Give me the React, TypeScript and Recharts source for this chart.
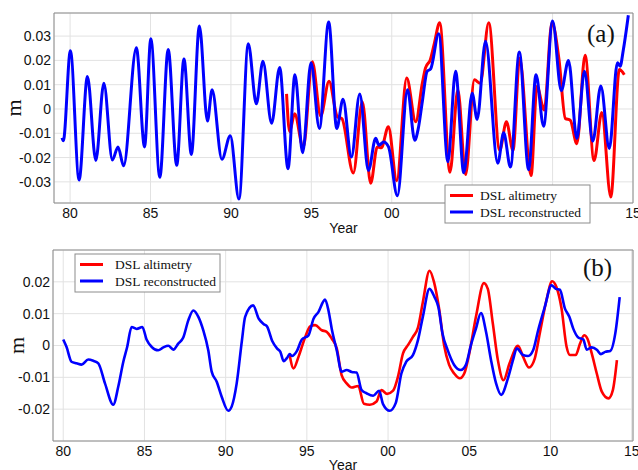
import { CartesianGrid, Line, LineChart, ReferenceArea, XAxis, YAxis } from 'recharts'

// panel (a): years counted from 1900, so 100 = 2000
const topAltYears = [93.46, 93.65, 93.96, 94.5, 95.06, 95.58, 96.1, 96.62, 96.9, 97.61, 98.17, 98.69, 99.1, 99.35, 99.79, 100.31, 100.93, 101.49, 101.9, 102.1, 102.4, 102.65, 102.98, 103.62, 104.11, 104.59, 105.14, 105.5, 106.03, 106.71, 107.13, 107.54, 107.95, 108.66, 109.03, 109.48, 109.96, 110.4, 110.79, 111.1, 111.51, 112.02, 112.58, 113.06, 113.62, 114.15, 114.46]
const topAltValues = [0.0062, -0.0094, -0.002, -0.0159, 0.0194, -0.0029, 0.0114, -0.0032, -0.004, -0.0264, 0.003, -0.0306, -0.0156, -0.016, -0.0073, -0.0295, 0.0127, -0.0053, 0.0106, 0.0169, 0.0203, 0.027, 0.0355, -0.026, 0.0079, -0.027, 0.012, 0.0106, 0.0355, -0.017, -0.0053, -0.017, 0.0209, -0.0274, 0.0092, -0.0004, 0.0355, 0.0203, -0.0039, -0.0046, -0.0143, 0.0221, -0.0212, -0.0015, -0.0362, 0.0162, 0.0141]

const topRecYears = [79.5, 79.58, 80.02, 80.56, 81.08, 81.6, 82.1, 82.63, 82.98, 83.33, 84.12, 84.63, 85.02, 85.58, 86.1, 86.63, 87.08, 87.54, 88.04, 88.54, 88.83, 89.44, 89.96, 90.5, 91.08, 91.58, 91.99, 92.53, 93.03, 93.55, 93.98, 94.46, 94.98, 95.5, 96.08, 96.58, 96.97, 97.49, 98.01, 98.55, 99.0, 99.2, 99.5, 99.8, 100.35, 100.98, 101.43, 101.65, 101.9, 102.2, 102.42, 102.92, 103.49, 103.97, 104.48, 105.0, 105.31, 105.83, 106.59, 106.96, 107.38, 107.93, 108.51, 108.97, 109.44, 110.0, 110.54, 110.99, 111.51, 111.98, 112.5, 113.0, 113.53, 114.03, 114.2, 114.4, 114.71]
const topRecValues = [-0.0119, -0.0131, 0.024, -0.0292, 0.0134, -0.0212, 0.0106, -0.021, -0.0156, -0.0234, 0.0252, -0.0156, 0.0289, -0.0281, 0.0245, -0.0232, 0.0206, -0.0187, 0.0342, -0.005, 0.0079, -0.0207, -0.011, -0.0371, 0.0268, 0.0021, 0.0196, -0.0059, 0.0171, -0.0246, 0.0141, -0.018, 0.019, -0.008, 0.0358, -0.008, 0.004, -0.0198, 0.0062, -0.0253, -0.0121, -0.0149, -0.0136, -0.0156, -0.0357, 0.0079, -0.0129, -0.008, 0.003, 0.0155, 0.0165, 0.031, -0.0217, 0.0155, -0.0263, 0.0065, -0.0043, 0.0279, -0.0223, -0.0098, -0.0239, 0.0234, -0.025, 0.0141, -0.0071, 0.0362, 0.0075, 0.02, -0.0122, 0.0155, -0.0133, 0.0095, -0.0163, 0.019, 0.0176, 0.0244, 0.0386]

// panel (b)
const botAltYears = [93.94, 94.18, 94.49, 94.9, 95.2, 95.51, 95.92, 96.22, 96.53, 96.84, 97.14, 97.45, 97.76, 98.16, 98.51, 98.88, 99.29, 99.59, 99.94, 100.31, 100.61, 100.92, 101.22, 101.53, 101.84, 102.14, 102.55, 102.83, 103.14, 103.45, 103.76, 104.07, 104.42, 104.69, 105.0, 105.41, 105.9, 106.14, 106.45, 106.76, 107.11, 107.48, 108.0, 108.31, 108.68, 109.03, 109.34, 109.75, 110.1, 110.37, 110.68, 110.99, 111.2, 111.55, 111.82, 112.07, 112.27, 112.54, 112.85, 113.16, 113.57, 113.84, 114.09]
const botAltValues = [-0.003, -0.0072, -0.0035, 0.0027, 0.006, 0.0064, 0.0048, 0.0043, 0.0022, -0.0009, -0.0093, -0.0119, -0.0132, -0.0127, -0.0183, -0.0186, -0.0176, -0.014, -0.0152, -0.0142, -0.0098, -0.0025, 0.0001, 0.0027, 0.0056, 0.0136, 0.0235, 0.0199, 0.0116, 0.0001, -0.0061, -0.0088, -0.0103, -0.0088, -0.0025, 0.009, 0.0196, 0.0178, 0.0069, -0.0046, -0.0109, -0.0056, -0.0001, -0.0035, -0.0069, -0.0041, 0.0038, 0.0142, 0.0202, 0.0183, 0.0116, -0.0004, -0.003, -0.003, 0.0006, 0.0032, 0.0022, -0.0025, -0.0088, -0.0145, -0.0166, -0.014, -0.0046]

const botRecYears = [80.0, 80.2, 80.51, 80.82, 81.13, 81.54, 81.85, 82.16, 82.57, 83.08, 83.39, 83.7, 83.94, 84.21, 84.52, 84.87, 85.13, 85.44, 85.85, 86.16, 86.47, 86.78, 87.08, 87.39, 87.7, 88.01, 88.32, 88.62, 88.93, 89.14, 89.45, 89.75, 90.16, 90.37, 90.68, 91.0, 91.2, 91.69, 92.04, 92.35, 92.55, 92.86, 93.16, 93.37, 93.57, 93.78, 93.94, 94.08, 94.39, 94.69, 95.1, 95.41, 95.71, 96.12, 96.33, 96.53, 96.84, 97.14, 97.45, 97.76, 98.06, 98.37, 98.67, 99.08, 99.45, 99.69, 100.1, 100.47, 100.82, 101.12, 101.53, 101.84, 102.14, 102.55, 102.86, 103.1, 103.35, 103.66, 104.07, 104.48, 104.79, 105.1, 105.41, 105.72, 106.03, 106.34, 106.65, 106.96, 107.38, 107.69, 107.93, 108.31, 108.62, 108.93, 109.24, 109.65, 110.06, 110.33, 110.58, 110.89, 111.16, 111.4, 111.71, 112.02, 112.23, 112.54, 112.85, 113.1, 113.37, 113.68, 113.99, 114.26]
const botRecValues = [0.0019, -0.0004, -0.0051, -0.0056, -0.006, -0.0044, -0.0048, -0.0056, -0.0119, -0.0186, -0.0129, -0.0051, -0.0004, 0.0058, 0.0052, 0.0058, 0.0019, -0.0004, -0.0015, -0.0006, -0.0001, -0.0013, 0.0006, 0.0025, 0.0079, 0.011, 0.009, 0.0048, -0.0015, -0.0082, -0.0114, -0.016, -0.0205, -0.0192, -0.0119, 0.0015, 0.009, 0.0126, 0.0084, 0.0067, 0.006, 0.0015, -0.0009, -0.002, -0.0049, -0.0039, -0.0027, -0.0033, -0.0017, 0.0019, 0.0032, 0.0084, 0.0105, 0.0144, 0.011, 0.0053, -0.0015, -0.0082, -0.0077, -0.0083, -0.0085, -0.014, -0.015, -0.0158, -0.0142, -0.0184, -0.0205, -0.0181, -0.0088, -0.0051, -0.003, 0.0017, 0.009, 0.0178, 0.0152, 0.012, 0.0038, -0.0013, -0.0061, -0.0077, -0.0061, 0.0001, 0.0053, 0.0102, 0.0043, -0.0046, -0.0119, -0.0155, -0.0103, -0.0046, -0.0009, -0.003, -0.0033, -0.0015, 0.0048, 0.0121, 0.0189, 0.0178, 0.0175, 0.0116, 0.009, 0.0053, 0.0025, 0.0019, -0.0013, -0.0006, -0.0013, -0.0027, -0.002, -0.0017, 0.0038, 0.0152]

const yearTicks = [80, 85, 90, 95, 100, 105, 110, 115]
const topValueTicks = [-0.03, -0.02, -0.01, 0, 0.01, 0.02, 0.03]
const botValueTicks = [-0.02, -0.01, 0, 0.01, 0.02]
const seriesNames = ['DSL altimetry', 'DSL reconstructed']

const zip = (xs: number[], ys: number[]) => xs.map((x, i) => ({ year: x, dsl: ys[i] }))

const RED = '#ff0000'
const BLUE = '#0000ff'
const sans = '"Liberation Sans", Arial, sans-serif'
const serif = '"Liberation Serif", "Times New Roman", serif'
const tickStyle = { fontSize: 14, fill: '#111', fontFamily: sans }

const fmtYear = (v: number) => String(Math.round(v) % 100).padStart(2, '0')
const fmtVal = (v: number) => (v === 0 ? '0' : v.toFixed(2))

function YLabel({ viewBox, x0 }: any) {
  const cy = viewBox.y + viewBox.height / 2
  return (
    <text x={x0} y={cy} transform={`rotate(-90 ${x0} ${cy})`} textAnchor="middle" fontFamily={serif} fontSize={22} fill="#111">
      m
    </text>
  )
}

function XLabel({ viewBox, dy }: any) {
  return (
    <text x={viewBox.x + viewBox.width / 2} y={viewBox.y + dy} textAnchor="middle" fontFamily={sans} fontSize={14} fill="#111">
      Year
    </text>
  )
}

function Panel(props: {
  top: number
  height: number
  marginTop: number
  yWidth: number
  xHeight: number
  xDomain: [number, number]
  yDomain: [number, number]
  yTicks: number[]
  alt: { year: number; dsl: number }[]
  rec: { year: number; dsl: number }[]
  lineWidth: number
  mX: number
  yearDy: number
}) {
  const { xDomain, yDomain } = props
  return (
    <div style={{ position: 'absolute', left: 0, top: props.top }}>
      <LineChart width={638} height={props.height} margin={{ top: props.marginTop, right: 5, left: 0, bottom: 0 }}>
        <CartesianGrid stroke="#e2e2e2" strokeWidth={1} />
        <XAxis
          dataKey="year"
          type="number"
          domain={xDomain}
          allowDataOverflow
          ticks={yearTicks}
          interval={0}
          tickFormatter={fmtYear}
          tick={tickStyle}
          tickLine={false}
          axisLine={false}
          tickSize={0}
          tickMargin={5}
          height={props.xHeight}
          label={<XLabel dy={props.yearDy} />}
        />
        <YAxis
          type="number"
          domain={yDomain}
          allowDataOverflow
          ticks={props.yTicks}
          interval={0}
          tickFormatter={fmtVal}
          tick={tickStyle}
          tickLine={false}
          axisLine={false}
          tickSize={0}
          tickMargin={3}
          width={props.yWidth}
          label={<YLabel x0={props.mX} />}
        />
        <ReferenceArea x1={xDomain[0]} x2={xDomain[1]} y1={yDomain[0]} y2={yDomain[1]} fill="none" stroke="#8c8c8c" strokeWidth={1} ifOverflow="visible" />
        <Line data={props.alt} dataKey="dsl" type="monotone" stroke={RED} strokeWidth={props.lineWidth} dot={false} isAnimationActive={false} />
        <Line data={props.rec} dataKey="dsl" type="monotone" stroke={BLUE} strokeWidth={props.lineWidth} dot={false} isAnimationActive={false} />
      </LineChart>
    </div>
  )
}

function LegendBox({ x, y, textDx }: { x: number; y: number; textDx: number }) {
  const colors = [RED, BLUE]
  return (
    <g>
      <rect x={x} y={y} width={145} height={38} fill="#fff" stroke="#8c8c8c" strokeWidth={1} />
      {seriesNames.map((name, i) => (
        <g key={name}>
          <line x1={x + 5} x2={x + 28} y1={y + 10.5 + i * 16.5} y2={y + 10.5 + i * 16.5} stroke={colors[i]} strokeWidth={3} />
          <text x={x + textDx} y={y + 15 + i * 16.5} fontFamily={serif} fontSize={13.5} fill="#111">
            {name}
          </text>
        </g>
      ))}
    </g>
  )
}

export default function App() {
  return (
    <div style={{ position: 'absolute', left: 0, top: 0, width: 638, height: 470, background: '#fff', overflow: 'hidden' }}>
      <Panel
        top={0}
        height={236}
        marginTop={13}
        yWidth={54}
        xHeight={33}
        xDomain={[79, 115]}
        yDomain={[-0.0387, 0.0395]}
        yTicks={topValueTicks}
        alt={zip(topAltYears, topAltValues)}
        rec={zip(topRecYears, topRecValues)}
        lineWidth={3}
        mX={21}
        yearDy={30}
      />
      <Panel
        top={240}
        height={230}
        marginTop={10}
        yWidth={53}
        xHeight={29}
        xDomain={[79.37, 115.08]}
        yDomain={[-0.03, 0.03]}
        yTicks={botValueTicks}
        alt={zip(botAltYears, botAltValues)}
        rec={zip(botRecYears, botRecValues)}
        lineWidth={2.6}
        mX={24}
        yearDy={29}
      />
      <svg width={638} height={470} style={{ position: 'absolute', left: 0, top: 0, pointerEvents: 'none' }}>
        <LegendBox x={445} y={185} textDx={35} />
        <LegendBox x={75} y={254} textDx={40} />
        <text x={587} y={41.5} fontFamily={serif} fontSize={25} fill="#111">
          (a)
        </text>
        <text x={583} y={275.5} fontFamily={serif} fontSize={25} fill="#111">
          (b)
        </text>
      </svg>
    </div>
  )
}
